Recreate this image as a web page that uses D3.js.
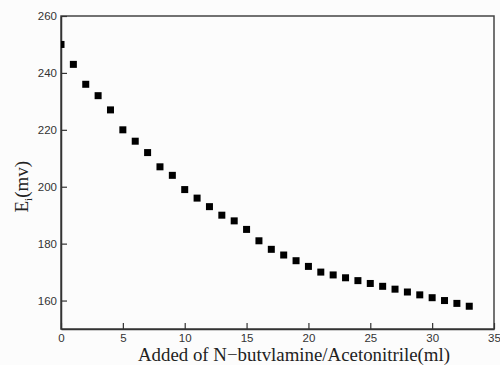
<!DOCTYPE html>
<html>
<head>
<meta charset="utf-8">
<script src="https://cdn.jsdelivr.net/npm/d3@7"></script>
<style>
  body { margin: 0; background: #fff; }
</style>
</head>
<body>
<div id="chart"></div>
<script>
// data
var added = [0,1,2,3,4,5,6,7,8,9,10,11,12,13,14,15,16,17,18,19,20,21,22,23,24,25,26,27,28,29,30,31,32,33];
var potential = [250,243,236,232,227,220,216,212,207,204,199,196,193,190,188,185,181,178,176,174,172,170,169,168,167,166,165,164,163,162,161,160,159,158];
var xTicks = [0,5,10,15,20,25,30,35];
var yTicks = [160,180,200,220,240,260];

var margin = {top: 16, right: 6, bottom: 36, left: 61},
    width = 500 - margin.left - margin.right,
    height = 365 - margin.top - margin.bottom;

var svg = d3.select("#chart")
  .append("svg")
    .attr("width", 500)
    .attr("height", 365)
    .style("background", "#fcfcfc")
  .append("g")
    .attr("transform", "translate(" + margin.left + "," + margin.top + ")");

var x = d3.scaleLinear().domain([0, 35]).range([0, width]);
var y = d3.scaleLinear().domain([150, 260]).range([height, 0]);

svg.append("clipPath").attr("id", "clip")
  .append("rect").attr("width", width).attr("height", height);

// frame
svg.append("rect")
  .attr("width", width).attr("height", height)
  .attr("fill", "none").attr("stroke", "#444").attr("stroke-width", 1.5);

// axes with inward ticks
var xAxis = svg.append("g")
  .attr("transform", "translate(0," + height + ")")
  .call(d3.axisBottom(x).tickValues(xTicks).tickSizeInner(-6).tickSizeOuter(0).tickPadding(5));
var yAxis = svg.append("g")
  .call(d3.axisLeft(y).tickValues(yTicks).tickSizeInner(-6).tickSizeOuter(0).tickPadding(4));

[xAxis, yAxis].forEach(function(a) {
  a.select(".domain").attr("stroke", "#333").attr("stroke-width", 1.5);
  a.selectAll(".tick line").attr("stroke", "#333").attr("stroke-width", 1.2);
  a.selectAll("text")
    .style("font-family", "Liberation Sans, Arial, sans-serif")
    .style("font-size", "11.5px")
    .attr("fill", "#333");
});

// points
var s = 7;
svg.append("g").attr("clip-path", "url(#clip)")
  .selectAll("rect")
  .data(added)
  .enter()
  .append("rect")
    .attr("x", function(d) { return x(d) - s / 2; })
    .attr("y", function(d, i) { return y(potential[i]) - s / 2; })
    .attr("width", s)
    .attr("height", s)
    .attr("fill", "#000");

// X axis label
svg.append("text")
  .attr("text-anchor", "start")
  .attr("x", 138 - margin.left)
  .attr("y", height + 32)
  .attr("textLength", 312)
  .attr("lengthAdjust", "spacingAndGlyphs")
  .style("font-family", "Liberation Serif, serif")
  .style("font-size", "18.5px")
  .attr("fill", "#222")
  .text("Added of N\u2212butvlamine/Acetonitrile(ml)");

// Y axis label
var yl = svg.append("text")
  .attr("text-anchor", "middle")
  .attr("transform", "translate(-33," + y(200) + ") rotate(-90)")
  .style("font-family", "Liberation Serif, serif")
  .style("font-size", "19px")
  .attr("fill", "#222");
yl.append("tspan").text("E");
yl.append("tspan").attr("dy", 4).style("font-size", "11px").text("i");
yl.append("tspan").attr("dy", -4).text("(mv)");
</script>
</body>
</html>
